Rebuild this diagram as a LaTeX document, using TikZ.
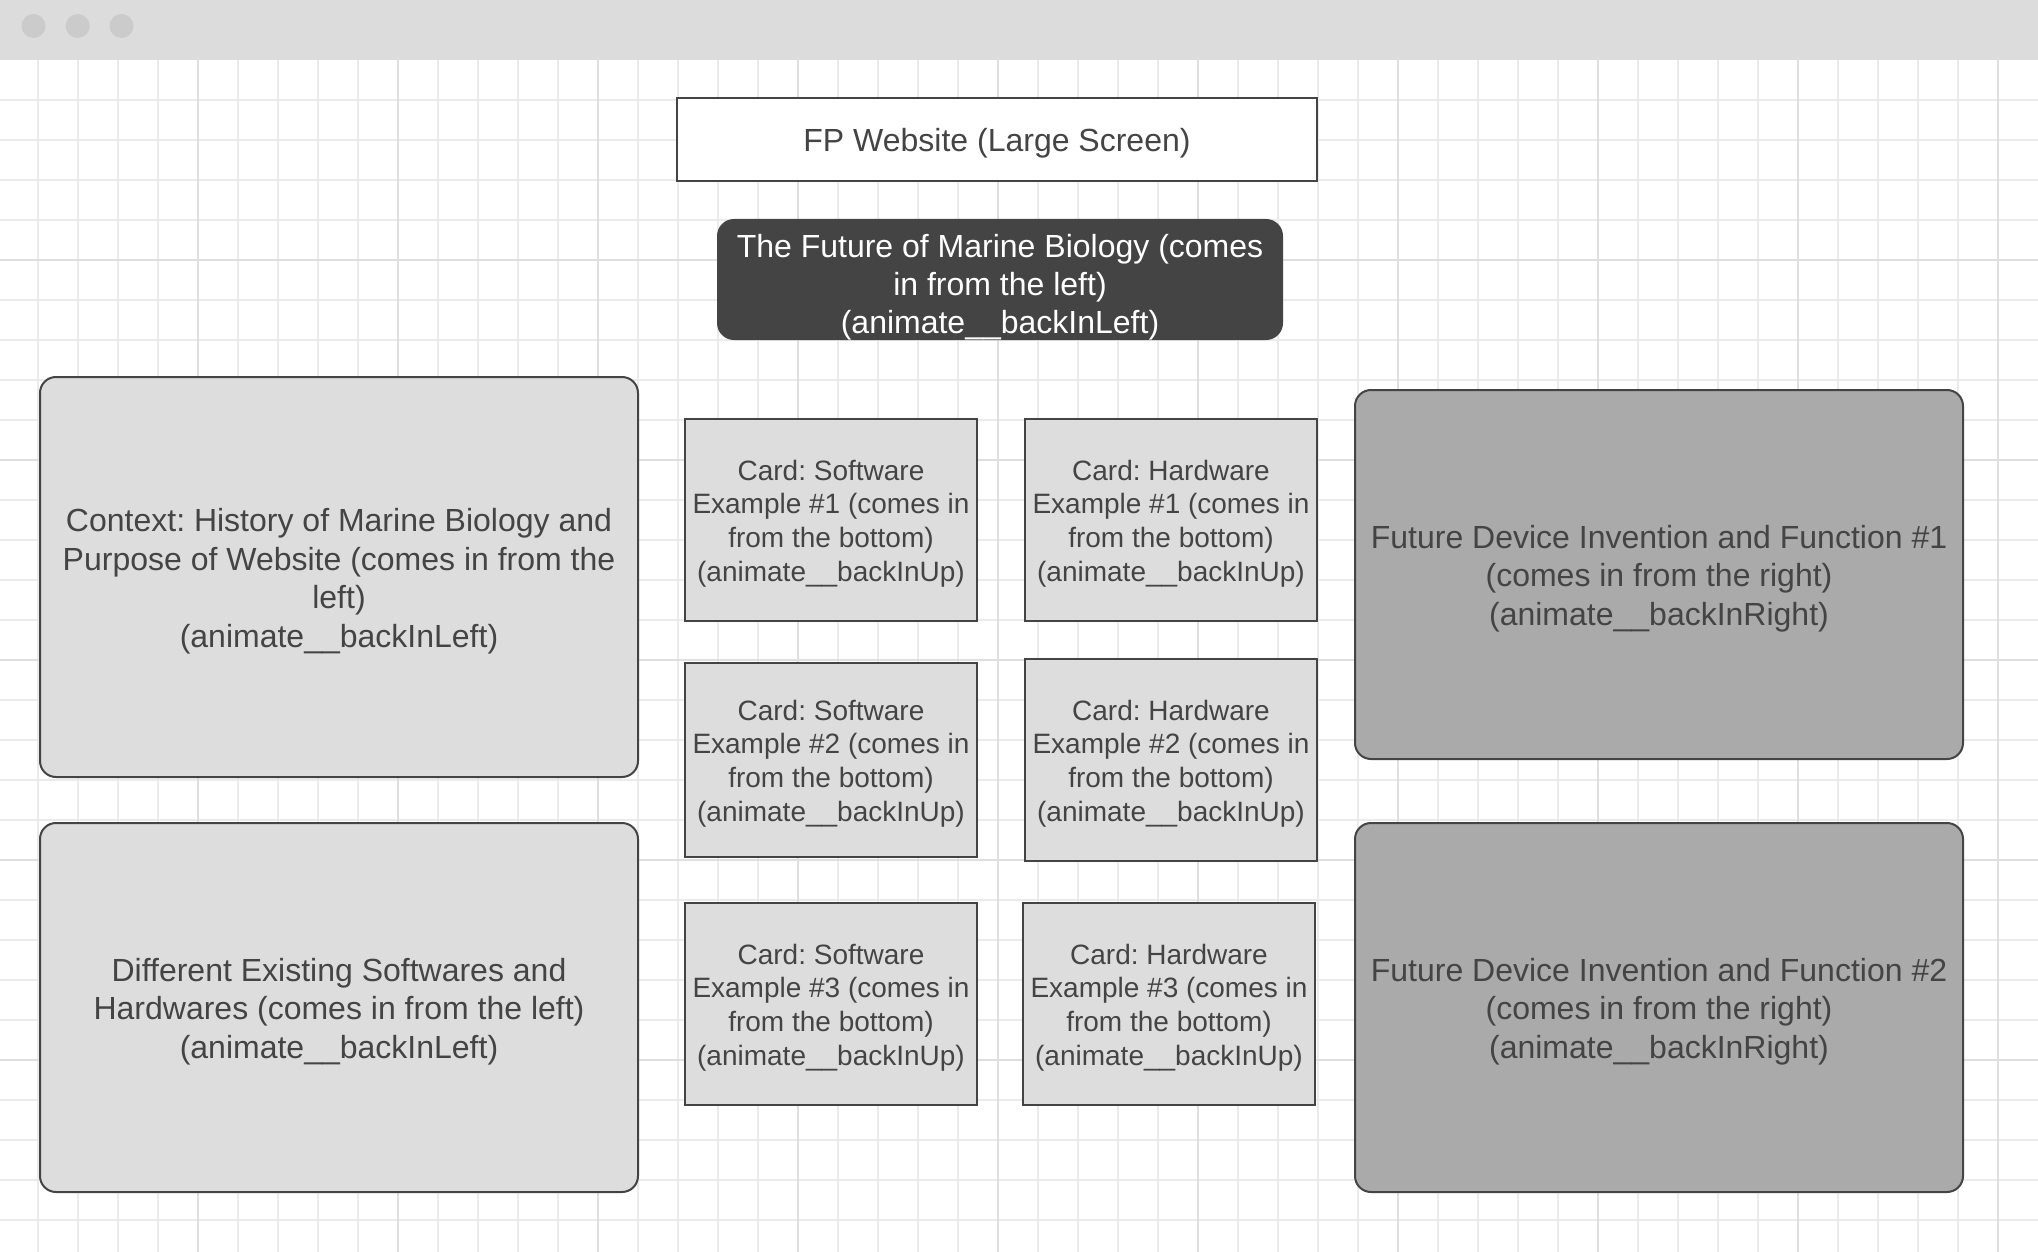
\documentclass[tikz,border=0pt]{standalone}
\usepackage{fontspec}
\setmainfont{Liberation Sans}
\frenchspacing
\newcommand\liftline[1]{\rule{0pt}{#1}}
\definecolor{txt}{HTML}{444444}
\definecolor{edge}{HTML}{444444}
\definecolor{lightfill}{HTML}{DDDDDD}
\definecolor{midfill}{HTML}{AAAAAA}
\definecolor{darkfill}{HTML}{444444}
\definecolor{barfill}{HTML}{DCDCDC}
\definecolor{dotfill}{HTML}{CBCBCB}
\definecolor{gridminor}{HTML}{EBEBEB}
\definecolor{gridmajor}{HTML}{DFDFDF}
\tikzset{
  minorline/.style={draw=gridminor, line width=1.5pt},
  majorline/.style={draw=gridmajor, line width=2pt},
  basebox/.style={draw=edge, line width=2pt, align=center, inner sep=0pt, text=txt},
  bigtext/.style={font=\frenchspacing\fontsize{32}{38.4}\selectfont},
  cardtext/.style={font=\frenchspacing\fontsize{28}{33.8}\selectfont},
  cardbox/.style={basebox, fill=lightfill, cardtext, minimum width=292pt, minimum height=202pt},
  sidebox/.style={basebox, fill=lightfill, bigtext, rounded corners=16pt},
  futurebox/.style={basebox, fill=midfill, bigtext, rounded corners=16pt, minimum width=608pt},
  dot/.style={circle, fill=dotfill, minimum size=24pt, inner sep=0pt}
}
\begin{document}
\begin{tikzpicture}[x=1pt,y=-1pt]
\useasboundingbox (0,0) rectangle (2038,1252);
\fill[white] (0,0) rectangle (2038,1252);
% grid
\foreach \i in {0,...,49} {\draw[minorline] ({38+40*\i},60) -- ({38+40*\i},1252);}
\foreach \j in {1,...,29} {\draw[minorline] (0,{60+40*\j}) -- (2038,{60+40*\j});}
\foreach \i in {0,...,9} {\draw[majorline] ({198+200*\i},60) -- ({198+200*\i},1252);}
\foreach \j in {1,...,5} {\draw[majorline] (0,{60+200*\j}) -- (2038,{60+200*\j});}
% window bar
\fill[barfill] (0,0) rectangle (2038,60);
\node[dot] (d1) at (33.5,26) {};
\node[dot] (d2) at (77.7,26) {};
\node[dot] (d3) at (121.5,26) {};
% title
\node[basebox, fill=white, bigtext, minimum width=640pt, minimum height=83pt] (title) at (997,139.5) {\liftline{31.5pt}FP Website (Large Screen)};
\node[basebox, fill=darkfill, draw=darkfill, text=white, bigtext, text depth=0pt, rounded corners=16pt, minimum width=564pt, minimum height=119pt] (hero) at (1000,279.5) {\liftline{32pt}The Future of Marine Biology (comes\\in from the left)\\(animate\_\_backInLeft)};
% left column
\node[sidebox, minimum width=598pt, minimum height=400pt] (context) at (339,577) {\liftline{31.5pt}Context: History of Marine Biology and\\Purpose of Website (comes in from the\\left)\\(animate\_\_backInLeft)};
\node[sidebox, minimum width=598pt, minimum height=369pt] (existing) at (339,1007.5) {\liftline{31.5pt}Different Existing Softwares and\\Hardwares (comes in from the left)\\(animate\_\_backInLeft)};
% cards
\node[cardbox] (sw1) at (831,520) {\liftline{27.5pt}Card: Software\\Example \#1 (comes in\\from the bottom)\\(animate\_\_backInUp)};
\node[cardbox] (hw1) at (1171,520) {\liftline{27.5pt}Card: Hardware\\Example \#1 (comes in\\from the bottom)\\(animate\_\_backInUp)};
\node[cardbox, minimum height=194pt] (sw2) at (831,760) {\liftline{27.5pt}Card: Software\\Example \#2 (comes in\\from the bottom)\\(animate\_\_backInUp)};
\node[cardbox] (hw2) at (1171,760) {\liftline{27.5pt}Card: Hardware\\Example \#2 (comes in\\from the bottom)\\(animate\_\_backInUp)};
\node[cardbox] (sw3) at (831,1004) {\liftline{27.5pt}Card: Software\\Example \#3 (comes in\\from the bottom)\\(animate\_\_backInUp)};
\node[cardbox] (hw3) at (1169,1004) {\liftline{27.5pt}Card: Hardware\\Example \#3 (comes in\\from the bottom)\\(animate\_\_backInUp)};
% right column
\node[futurebox, minimum height=369pt] (future1) at (1659,574.5) {\liftline{31.5pt}Future Device Invention and Function \#1\\(comes in from the right)\\(animate\_\_backInRight)};
\node[futurebox, minimum height=369pt] (future2) at (1659,1007.5) {\liftline{31.5pt}Future Device Invention and Function \#2\\(comes in from the right)\\(animate\_\_backInRight)};
\end{tikzpicture}
\end{document}
